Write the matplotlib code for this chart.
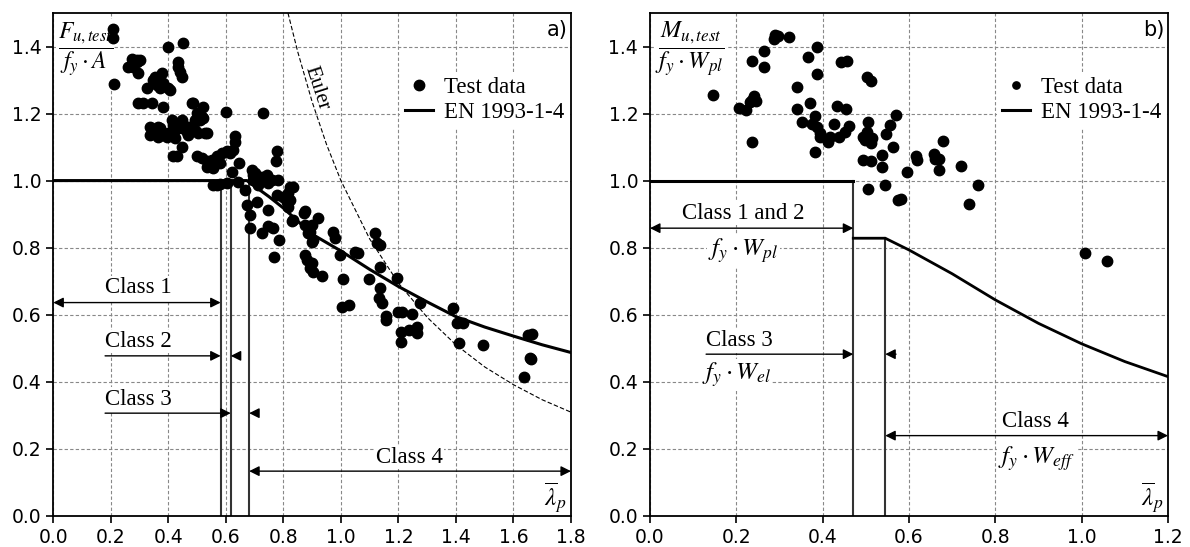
import matplotlib.pyplot as plt
from matplotlib.ticker import FormatStrFormatter

# ---- data ----
# a) axial compression: slenderness vs F_u,test / (f_y A)
lam_a = [0.209, 0.209, 0.212, 0.261, 0.275, 0.29, 0.302, 0.296, 0.278, 0.29,
         0.325, 0.348, 0.296, 0.313, 0.342, 0.336, 0.336, 0.348,
         0.36, 0.371, 0.383, 0.40, 0.406, 0.377, 0.354, 0.40, 0.452, 0.435,
         0.435, 0.44, 0.447, 0.383, 0.365, 0.377, 0.40, 0.412, 0.423, 0.447,
         0.365, 0.371, 0.394, 0.417, 0.417, 0.423, 0.447, 0.447, 0.447, 0.417,
         0.429, 0.481, 0.487, 0.522, 0.499, 0.51, 0.493, 0.528, 0.534, 0.464,
         0.481, 0.47, 0.493, 0.516, 0.504, 0.47, 0.522, 0.499, 0.516, 0.534,
         0.551, 0.534, 0.557, 0.568, 0.586, 0.603, 0.615, 0.626, 0.58,
         0.601, 0.632, 0.632, 0.647, 0.62, 0.557, 0.568, 0.58, 0.603, 0.643,
         0.667, 0.69, 0.701, 0.696, 0.719, 0.725, 0.742, 0.696, 0.713, 0.748,
         0.76, 0.783, 0.673, 0.684, 0.684, 0.708, 0.728, 0.779, 0.775,
         0.748, 0.725, 0.748, 0.765, 0.786, 0.769, 0.777, 0.80, 0.817, 0.835,
         0.823, 0.812, 0.823, 0.817, 0.835, 0.829, 0.87, 0.875, 0.875, 0.899,
         0.922, 0.893, 0.887, 0.899, 0.904, 0.875, 0.881, 0.899, 0.893, 0.904,
         0.934, 0.974, 0.98, 0.997, 1.009, 1.003, 1.029, 1.049, 1.061,
         1.119, 1.125, 1.136, 1.136, 1.099, 1.136, 1.134, 1.142, 1.157, 1.157,
         1.194, 1.20, 1.212, 1.247, 1.208, 1.238, 1.266, 1.264, 1.209, 1.276,
         1.391, 1.403, 1.424, 1.412, 1.494, 1.649, 1.666, 1.656, 1.66, 1.638]
ratio_a = [1.452, 1.425, 1.289, 1.340, 1.362, 1.36, 1.36, 1.32, 1.34, 1.355,
           1.276, 1.301, 1.231, 1.231, 1.231, 1.161, 1.136, 1.146,
           1.286, 1.276, 1.291, 1.276, 1.271, 1.32, 1.31, 1.40, 1.412, 1.355,
           1.34, 1.325, 1.31, 1.221, 1.161, 1.136, 1.141, 1.181, 1.151, 1.171,
           1.131, 1.156, 1.131, 1.166, 1.146, 1.127, 1.156, 1.181, 1.101, 1.074,
           1.072, 1.231, 1.231, 1.221, 1.201, 1.181, 1.151, 1.141, 1.141, 1.146,
           1.161, 1.161, 1.181, 1.191, 1.141, 1.136, 1.186, 1.072, 1.067, 1.057,
           1.062, 1.042, 1.037, 1.072, 1.082, 1.087, 1.082, 1.092, 1.052,
           1.206, 1.133, 1.116, 1.052, 1.027, 0.987, 0.987, 0.99, 0.992, 0.997,
           0.972, 1.032, 1.022, 1.017, 1.007, 1.012, 1.017, 1.002, 0.987, 0.992,
           1.002, 1.002, 0.927, 0.897, 0.858, 0.937, 1.201, 1.087, 1.057,
           0.912, 0.845, 0.863, 0.858, 0.823, 0.771, 0.957, 0.952, 0.962, 0.982,
           0.982, 0.937, 0.942, 0.922, 0.883, 0.878, 0.903, 0.908, 0.868, 0.868,
           0.888, 0.848, 0.843, 0.818, 0.823, 0.778, 0.763, 0.753, 0.738, 0.728,
           0.716, 0.848, 0.828, 0.778, 0.706, 0.622, 0.629, 0.788, 0.783,
           0.845, 0.813, 0.808, 0.741, 0.707, 0.679, 0.649, 0.634, 0.597, 0.584,
           0.709, 0.607, 0.607, 0.601, 0.549, 0.554, 0.562, 0.544, 0.518, 0.634,
           0.619, 0.576, 0.576, 0.515, 0.51, 0.539, 0.542, 0.47, 0.467, 0.415]

# EN 1993-1-4 design curve (a)
lam_en_a = [0.0, 0.673, 0.75, 0.80, 0.90, 1.00, 1.10, 1.20, 1.30, 1.40, 1.50, 1.60, 1.70, 1.80]
rho_en_a = [1.0, 1.0, 0.952, 0.918, 0.840, 0.790, 0.735, 0.684, 0.638, 0.594, 0.563, 0.536, 0.510, 0.487]
# Euler curve (a)
lam_eu = [0.816, 0.85, 0.90, 0.95, 1.00, 1.10, 1.20, 1.30, 1.40, 1.50, 1.60, 1.70, 1.80]
rho_eu = [1.50, 1.384, 1.235, 1.108, 1.00, 0.826, 0.694, 0.592, 0.510, 0.444, 0.391, 0.346, 0.309]
# class limits (a)
lim_a = [0.582, 0.617, 0.681]

# b) bending: slenderness vs M_u,test / (f_y W_pl)
lam_b = [0.147, 0.207, 0.222, 0.236, 0.236, 0.241, 0.232, 0.246, 0.237, 0.263,
         0.265, 0.288, 0.297, 0.323, 0.29, 0.34, 0.34, 0.352, 0.367, 0.371,
         0.388, 0.388, 0.383, 0.375, 0.386, 0.394, 0.394, 0.382, 0.413, 0.416,
         0.427, 0.434, 0.439, 0.454, 0.452, 0.46, 0.442, 0.457, 0.502, 0.511,
         0.504, 0.494, 0.502, 0.514, 0.498, 0.511, 0.494, 0.511, 0.504, 0.537,
         0.537, 0.545, 0.547, 0.556, 0.569, 0.564, 0.575, 0.581, 0.596, 0.616,
         0.618, 0.658, 0.66, 0.67, 0.678, 0.669, 0.72, 0.759, 0.738, 1.007, 1.059]
ratio_b = [1.254, 1.216, 1.211, 1.358, 1.241, 1.251, 1.233, 1.236, 1.115, 1.388,
           1.34, 1.422, 1.432, 1.428, 1.435, 1.279, 1.213, 1.174, 1.368, 1.231,
           1.40, 1.318, 1.194, 1.169, 1.161, 1.143, 1.13, 1.084, 1.116, 1.131,
           1.168, 1.223, 1.131, 1.213, 1.146, 1.163, 1.355, 1.358, 1.309, 1.296,
           1.176, 1.131, 1.146, 1.127, 1.121, 1.112, 1.06, 1.057, 0.975, 1.077,
           1.042, 0.987, 1.139, 1.166, 1.196, 1.101, 0.942, 0.944, 1.027, 1.072,
           1.062, 1.08, 1.064, 1.064, 1.118, 1.032, 1.044, 0.987, 0.93, 0.783, 0.76]

# EN 1993-1-4 design curve (b)
lam_en_b1 = [0.0, 0.471]
rho_en_b1 = [1.0, 1.0]
lam_en_b2 = [0.471, 0.545, 0.60, 0.70, 0.80, 0.90, 1.00, 1.10, 1.20]
rho_en_b2 = [0.828, 0.828, 0.793, 0.722, 0.644, 0.574, 0.513, 0.460, 0.415]
lim_b = [0.471, 0.545]

SERIF = 'Liberation Serif'
plt.rcParams['font.family'] = 'DejaVu Sans'
plt.rcParams['mathtext.fontset'] = 'stix'

fig = plt.figure(figsize=(11.9, 5.47), dpi=100)
ax1 = fig.add_axes([0.0448, 0.0572, 0.4350, 0.9190])
ax2 = fig.add_axes([0.5462, 0.0572, 0.4353, 0.9190])

WHITE = dict(facecolor='white', edgecolor='none', pad=1)


def style_axes(ax, xmax):
    ax.set_xlim(0, xmax)
    ax.set_ylim(0, 1.5)
    ax.set_xticks([i * 0.2 for i in range(int(round(xmax / 0.2)) + 1)])
    ax.set_yticks([i * 0.2 for i in range(8)])
    ax.xaxis.set_major_formatter(FormatStrFormatter('%.1f'))
    ax.yaxis.set_major_formatter(FormatStrFormatter('%.1f'))
    ax.grid(True, linestyle=(0, (3, 2)), color='#888888', linewidth=0.8)
    ax.set_axisbelow(True)
    ax.tick_params(labelsize=13.5, length=5, width=1.2)
    for s in ax.spines.values():
        s.set_linewidth(1.3)


def arrow(ax, x0, x1, y, style):
    ax.annotate('', xy=(x1, y), xytext=(x0, y),
                arrowprops=dict(arrowstyle=style, color='black', lw=1.0,
                                shrinkA=0, shrinkB=0, mutation_scale=15))


def label(ax, x, y, s, ha='center', size=16.5):
    ax.text(x, y, s, ha=ha, va='center', fontsize=size, family=SERIF,
            bbox=WHITE, zorder=4)


def legend(ax, mscale):
    ax.legend(loc='upper right', bbox_to_anchor=(1.018, 0.905), numpoints=1,
              markerscale=mscale, prop={'family': SERIF, 'size': 16.5},
              frameon=True, fancybox=False, edgecolor='none', facecolor='white',
              framealpha=1, handlelength=1.2, handletextpad=0.5, borderpad=0.2,
              labelspacing=0.2)


# ---- panel a ----
ax = ax1
style_axes(ax, 1.8)
for xl in lim_a:
    ax.plot([xl, xl], [0, 1.0], color='#333333', lw=1.5, zorder=2)
ax.plot(lam_eu, rho_eu, color='black', lw=0.8, linestyle=(0, (4, 2)), zorder=2)
ax.plot(lam_a, ratio_a, 'o', color='black', ms=7.5, ls='none', zorder=3, label='Test data')
ax.plot(lam_en_a, rho_en_a, color='black', lw=2.2, zorder=3, label='EN 1993-1-4')

ax.text(0.916, 1.276, 'Euler', rotation=-72, ha='center', va='center',
        fontsize=15, family=SERIF)

arrow(ax, 0.0, lim_a[0], 0.636, '<|-|>')
label(ax, 0.18, 0.68, 'Class 1', ha='left')
arrow(ax, 0.18, lim_a[0], 0.477, '-|>')
arrow(ax, 0.65, lim_a[1], 0.477, '-|>')
label(ax, 0.18, 0.52, 'Class 2', ha='left')
arrow(ax, 0.18, lim_a[1], 0.306, '-|>')
arrow(ax, 0.71, lim_a[2], 0.306, '-|>')
label(ax, 0.18, 0.348, 'Class 3', ha='left')
arrow(ax, lim_a[2], 1.8, 0.133, '<|-|>')
label(ax, 1.237, 0.175, 'Class 4')

ax.text(0.015, 1.39, r'$\dfrac{F_{u,test}}{f_y\cdot A}$', ha='left', va='center',
        fontsize=17, bbox=WHITE, zorder=2.5)
ax.text(1.745, 0.055, r'$\overline{\lambda}_p$', ha='center', va='center', fontsize=18)
ax.text(0.993, 0.986, 'a)', transform=ax.transAxes, ha='right', va='top', fontsize=15)
legend(ax, 1.0)

# ---- panel b ----
ax = ax2
style_axes(ax, 1.2)
ax.plot([lim_b[0], lim_b[0]], [0, 1.0], color='#333333', lw=1.5, zorder=2)
ax.plot([lim_b[1], lim_b[1]], [0, rho_en_b2[1]], color='#333333', lw=1.5, zorder=2)
ax.plot(lam_b, ratio_b, 'o', color='black', ms=7.5, ls='none', zorder=3, label='Test data')
ax.plot(lam_en_b1, rho_en_b1, color='black', lw=2.2, zorder=3, label='EN 1993-1-4')
ax.plot(lam_en_b2, rho_en_b2, color='black', lw=2.0, zorder=3)

arrow(ax, 0.0, lim_b[0], 0.858, '<|-|>')
label(ax, 0.216, 0.903, 'Class 1 and 2')
label(ax, 0.216, 0.79, r'$f_y\cdot W_{pl}$', size=18)
arrow(ax, 0.13, lim_b[0], 0.482, '-|>')
arrow(ax, 0.57, lim_b[1], 0.482, '-|>')
label(ax, 0.13, 0.522, 'Class 3', ha='left')
label(ax, 0.2, 0.42, r'$f_y\cdot W_{el}$', size=18)
arrow(ax, lim_b[1], 1.2, 0.239, '<|-|>')
label(ax, 0.892, 0.281, 'Class 4')
label(ax, 0.896, 0.171, r'$f_y\cdot W_{eff}$', size=18)

ax.text(0.012, 1.39, r'$\dfrac{M_{u,test}}{f_y\cdot W_{pl}}$', ha='left', va='center',
        fontsize=17.5, bbox=WHITE, zorder=2.5)
ax.text(1.163, 0.055, r'$\overline{\lambda}_p$', ha='center', va='center', fontsize=18)
ax.text(0.993, 0.986, 'b)', transform=ax.transAxes, ha='right', va='top', fontsize=15)
legend(ax, 0.7)

fig.savefig('out.png', dpi=100)
